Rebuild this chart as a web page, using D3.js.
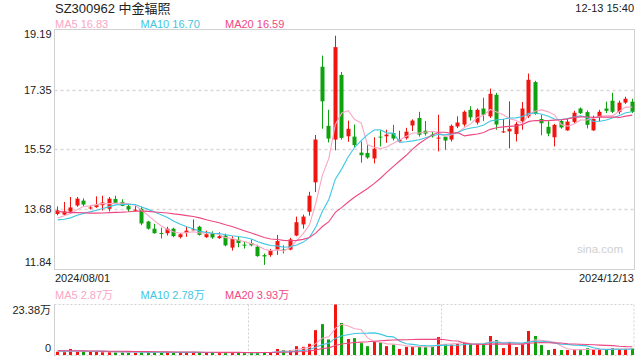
<!DOCTYPE html>
<html><head><meta charset="utf-8">
<script src="https://cdn.jsdelivr.net/npm/d3@7"></script>
<style>body{margin:0;background:#fff}svg{display:block;font-family:Arial,"Liberation Sans","Noto Sans CJK SC",sans-serif}</style>
</head><body><svg id="c" width="640" height="360"></svg>
<script>
const title = "SZ300962 中金辐照";
const timeLabel = "12-13 15:40";
const dateLabels = ["2024/08/01", "2024/12/13"];
const priceTicks = [11.84, 13.68, 15.52, 17.35, 19.19];
const volTicks = [0, 23.38];
const maNames = ["MA5", "MA10", "MA20"];
const maPeriods = [5, 10, 20];
const maPriceLegend = ["16.83", "16.70", "16.59"];
const maVolLegend = ["2.87万", "2.78万", "3.93万"];

// closes / volumes of the 19 sessions before 2024/08/01 (estimated from MA line start points)
const priorCloses = [14.10,14.05,13.98,13.95,13.90,13.85,13.80,13.78,13.72,13.67,
  13.45,13.30,13.22,13.25,13.28,13.30,13.38,13.42,13.35];
const priorVolumes = [2.4,2.2,2.5,2.1,2.0,2.3,1.9,2.2,2.0,1.8,2.1,1.9,2.0,1.7,2.2,1.8,1.9,2.0,1.6];

const opens = [
13.54,13.52,13.61,13.80,13.95,13.71,13.75,13.81,13.70,14.00,
13.91,13.78,13.65,13.70,13.31,13.09,12.96,12.95,13.09,12.83,
12.96,13.05,13.15,12.83,12.95,12.80,12.88,12.51,12.75,12.60,
12.65,12.54,12.28,12.28,12.45,12.45,12.45,12.88,13.22,13.61,
14.51,18.05,16.24,15.82,17.80,15.92,15.91,15.42,15.41,15.24,
15.91,15.92,16.02,15.76,15.86,16.25,16.48,16.09,15.97,15.87,
15.90,15.82,16.22,16.28,16.73,16.34,16.77,16.53,17.19,16.05,
16.07,15.99,16.38,16.53,17.58,16.45,16.21,15.89,16.39,16.10,
16.36,16.77,16.66,16.10,16.51,16.77,17.01,16.66,16.95,16.98];
const closes = [
13.65,13.62,13.74,14.01,13.83,13.74,13.81,13.89,14.01,13.88,
13.79,13.68,13.67,13.25,13.09,12.95,12.94,13.09,12.86,12.92,
13.03,13.07,12.90,12.92,12.82,12.86,12.58,12.77,12.65,12.58,
12.58,12.25,12.24,12.42,12.71,12.43,12.76,13.29,13.46,14.10,
15.82,16.99,15.85,18.65,15.87,16.15,15.65,15.34,15.27,15.54,
15.89,15.97,15.85,15.82,16.06,16.40,15.97,16.00,15.92,15.88,
15.79,16.24,16.34,16.67,16.50,16.73,16.58,17.22,16.28,16.07,
16.15,16.30,16.77,17.65,16.60,16.32,16.00,16.27,16.19,16.37,
16.64,16.63,16.27,16.45,16.67,16.70,16.67,16.95,17.07,16.67];
const highs = [
13.77,13.91,14.06,14.06,14.02,13.80,14.08,14.10,14.06,14.10,
13.99,13.85,13.82,13.76,13.33,13.24,13.12,13.15,13.12,12.96,
13.15,13.37,13.18,13.03,13.01,12.98,12.94,12.86,12.84,12.70,
12.76,12.60,12.33,12.47,12.90,12.58,12.81,13.46,13.52,14.22,
15.96,18.39,16.73,19.00,17.89,16.40,16.28,15.76,15.66,15.89,
16.10,16.12,16.27,16.09,16.18,16.44,16.67,16.39,16.07,16.58,
15.94,16.28,16.53,16.71,16.84,16.77,17.10,17.38,17.25,16.45,
16.99,16.36,16.97,17.84,17.62,16.58,16.38,16.30,16.43,16.46,
16.70,16.80,16.71,16.55,16.73,16.98,17.25,17.01,17.13,17.07];
const lows = [
13.50,13.51,13.54,13.76,13.76,13.68,13.73,13.65,13.62,13.86,
13.78,13.61,13.62,13.20,13.06,12.94,12.79,12.88,12.83,12.79,
12.84,13.04,12.88,12.81,12.78,12.78,12.55,12.42,12.52,12.48,
12.55,12.23,11.98,12.23,12.29,12.33,12.43,12.86,13.09,13.49,
14.21,16.15,15.73,15.49,15.82,15.75,15.58,15.11,15.23,15.09,
15.61,15.72,15.79,15.73,15.82,16.08,15.91,15.94,15.88,15.46,
15.51,15.76,16.17,16.22,16.40,16.28,16.39,16.48,16.12,16.02,
15.55,15.76,16.12,16.48,16.58,15.95,15.92,15.61,16.15,16.09,
16.31,16.60,16.16,16.09,16.38,16.63,16.63,16.60,16.91,16.63];
// volume in 万 shares
const volumes = [
1.5,1.3,2.8,1.6,1.6,1.4,1.5,1.3,1.4,1.2,
1.3,1.2,1.1,1.6,1.3,1.2,1.1,1.2,1.2,1.1,
1.2,1.3,1.2,1.0,1.1,1.0,1.3,1.2,1.1,1.0,
1.0,1.3,1.4,1.2,2.8,2.3,2.3,4.1,3.8,5.2,
11.5,14.3,7.2,23.38,14.8,7.4,7.8,5.5,4.1,6.3,
5.8,4.1,4.8,2.8,3.8,4.0,4.0,3.8,3.7,8.3,
5.1,4.8,5.1,5.8,5.4,5.1,5.0,8.8,6.9,3.2,
6.0,3.7,5.4,11.1,8.8,4.6,2.3,2.8,2.3,2.3,
2.5,2.5,3.1,2.5,2.6,2.6,3.2,2.8,2.8,3.0];

const RED = "#f2150f", GREEN = "#0ea20e";
const MA_COLORS = ["#f9a6c4", "#3fc6e2", "#ee4883"];
const TXT = "#222";

const svg = d3.select("#c");
const L = 54.5, R = 634.5, PT = 29.5, PB = 269.5, VT = 304.5, VB = 355;
const n = closes.length;
const idx = d3.range(n);

const x = d3.scaleBand().domain(idx).range([54, 635]);
const cx = i => x(i) + x.bandwidth() / 2;
const yP = d3.scaleLinear().domain([priceTicks[0], priceTicks[priceTicks.length - 1]]).range([PB, PT]);
const yV = d3.scaleLinear().domain([volTicks[0], volTicks[1]]).range([VB, VT]);

function movingAvg(prior, vals, p) {
  const all = prior.concat(vals);
  const off = prior.length;
  return vals.map((_, i) => d3.mean(all.slice(off + i - p + 1, off + i + 1)));
}

// ---- price panel frame & grid
const grid = svg.append("g");
priceTicks.slice(1, -1).forEach(t => {
  grid.append("line").attr("x1", L).attr("x2", R).attr("y1", Math.round(yP(t)) + 0.5).attr("y2", Math.round(yP(t)) + 0.5)
    .attr("stroke", "#d8d8d8").attr("stroke-width", 1.5).attr("stroke-dasharray", "3,3");
});
svg.append("rect").attr("x", L).attr("y", PT).attr("width", R - L).attr("height", PB - PT)
  .attr("fill", "none").attr("stroke", "#d0d0d0");

// y axis (price)
const ax = svg.append("g").attr("transform", `translate(${L - 3},0)`)
  .call(d3.axisLeft(yP).tickValues(priceTicks).tickSize(0).tickPadding(0).tickFormat(d3.format(".2f")));
ax.select(".domain").remove();
ax.selectAll("text").attr("fill", TXT).attr("font-size", 11).attr("font-family", "Arial, 'Liberation Sans', sans-serif")
  .attr("dy", (d, i) => i === 0 ? "-0.32em" : (i === priceTicks.length - 1 ? "0.75em" : "0.32em"));

// ---- candles
const cg = svg.append("g");
idx.forEach(i => {
  const up = closes[i] >= opens[i];
  const col = up ? RED : GREEN;
  const c = Math.round(cx(i));
  cg.append("line").attr("x1", c + 0.5).attr("x2", c + 0.5)
    .attr("y1", yP(highs[i])).attr("y2", yP(lows[i])).attr("stroke", col).attr("stroke-width", 1);
  const top = yP(Math.max(opens[i], closes[i])), bot = yP(Math.min(opens[i], closes[i]));
  cg.append("rect").attr("x", c - 1.5).attr("width", 4).attr("y", top)
    .attr("height", Math.max(1, bot - top)).attr("fill", col);
});

// ---- MA lines (price)
maPeriods.forEach((p, k) => {
  const m = movingAvg(priorCloses, closes, p);
  svg.append("path").datum(m).attr("fill", "none").attr("stroke", MA_COLORS[k]).attr("stroke-width", 1.1)
    .attr("d", d3.line().x((d, i) => cx(i) + 0.5).y(d => yP(d)));
});

// ---- texts top
svg.append("text").attr("x", 55).attr("y", 12.5).attr("font-size", 13).attr("fill", TXT).text(title);
svg.append("text").attr("x", 634).attr("y", 11.5).attr("text-anchor", "end").attr("font-size", 11).attr("fill", TXT).text(timeLabel);
const legX = [55, 140.5, 225];
maNames.forEach((nm, k) => {
  svg.append("text").attr("x", legX[k]).attr("y", 27.5).attr("font-size", 11).attr("fill", MA_COLORS[k])
    .text(nm + " " + maPriceLegend[k]);
  svg.append("text").attr("x", legX[k]).attr("y", 299.2).attr("font-size", 11).attr("fill", MA_COLORS[k])
    .text(nm + " " + maVolLegend[k]);
});
svg.append("text").attr("x", 55).attr("y", 281.5).attr("font-size", 11).attr("fill", TXT).text(dateLabels[0]);
svg.append("text").attr("x", 634).attr("y", 281.5).attr("text-anchor", "end").attr("font-size", 11).attr("fill", TXT).text(dateLabels[1]);
svg.append("text").attr("x", 623).attr("y", 253).attr("text-anchor", "end").attr("font-size", 11.5).attr("fill", "#cfcfcf").text("sina.com");

// ---- volume panel frame
const vg = svg.append("g");
const dot = sel => sel.attr("stroke", "#d0d0d0").attr("stroke-width", 1).attr("stroke-dasharray", "2,2");
vg.append("line").attr("x1", L).attr("x2", R).attr("y1", VT).attr("y2", VT).call(dot);
vg.append("line").attr("x1", L).attr("x2", R).attr("y1", VB + 0.5).attr("y2", VB + 0.5).call(dot);
vg.append("line").attr("x1", R - 0.5).attr("x2", R - 0.5).attr("y1", VT).attr("y2", VB).call(dot);
[1, 2].forEach(k => {
  const xx = Math.round(L + (R - L) * k / 3) + 0.5;
  vg.append("line").attr("x1", xx).attr("x2", xx).attr("y1", VT).attr("y2", VB).call(dot);
});
vg.append("line").attr("x1", L).attr("x2", L).attr("y1", VT).attr("y2", VB + 1).attr("stroke", "#d0d0d0");

// volume axis labels
const vax = svg.append("g").attr("transform", `translate(${L - 3.5},0)`)
  .call(d3.axisLeft(yV).tickValues(volTicks).tickSize(0).tickPadding(0)
    .tickFormat(d => d === 0 ? "0" : d3.format(".2f")(d) + "万"));
vax.select(".domain").remove();
vax.selectAll("text").attr("fill", TXT).attr("font-size", 11)
  .attr("font-family", "Arial, 'Liberation Sans', 'Noto Sans CJK SC', sans-serif")
  .attr("dy", (d, i) => i === 0 ? "-0.3em" : "0.85em");

// volume bars
idx.forEach(i => {
  const up = closes[i] >= opens[i];
  const c = Math.round(cx(i));
  vg.append("rect").attr("x", c - 1).attr("width", 3).attr("y", yV(volumes[i]))
    .attr("height", Math.max(1, VB - yV(volumes[i]))).attr("fill", up ? RED : GREEN);
});
maPeriods.forEach((p, k) => {
  const m = movingAvg(priorVolumes, volumes, p);
  svg.append("path").datum(m).attr("fill", "none").attr("stroke", MA_COLORS[k]).attr("stroke-width", 1.1)
    .attr("d", d3.line().x((d, i) => cx(i) + 0.5).y(d => yV(d)));
});
</script></body></html>
